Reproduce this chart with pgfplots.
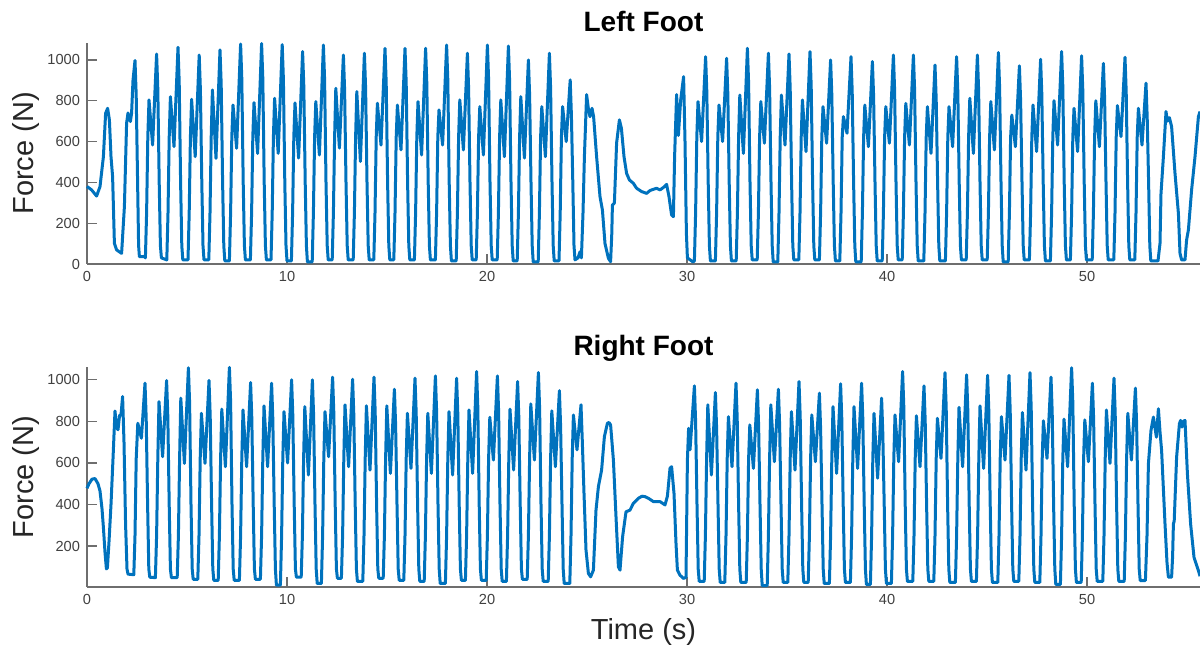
\documentclass[border=0pt]{standalone}
\usepackage{fontspec}
\setmainfont{Liberation Sans}
\usepackage{pgfplots}
\pgfplotsset{compat=1.18}
\definecolor{mblue}{RGB}{0,114,189}
\definecolor{axgray}{RGB}{110,110,110}
\definecolor{tickgray}{RGB}{64,64,64}
\pgfplotsset{
  footax/.style={
    scale only axis, width=556.5pt,
    xmin=0, xmax=55.65, enlargelimits=false,
    axis x line=bottom, axis y line=left,
    axis line style={axgray, line width=0.6pt, -},
    tick align=inside, major tick length=5pt,
    every tick/.style={axgray, line width=0.6pt},
    xtick={0,10,...,50},
    tick label style={font=\fontsize{7.3}{8}\selectfont, text=tickgray},
    /pgf/number format/assume math mode=true,
    /pgf/number format/1000 sep={},
    every axis y label/.style={at={(axis description cs:-0.0548,0.5)}, rotate=90, anchor=center,
      font=\fontsize{14.5}{16}\selectfont, text=black!85},
    title style={font=\bfseries\fontsize{14}{16}\selectfont, at={(axis description cs:0.5,1)}, anchor=base, yshift=-0.5pt},
    clip=false,
  },
  foot/.style={mblue, line width=1.5pt, line join=round},
}

\begin{document}
\begin{tikzpicture}
% left foot
\begin{axis}[footax, at={(43.5pt,193.5pt)}, anchor=south west, height=110.5pt,
  ymin=0, ymax=1083, ytick={0,200,...,1000},
  title={Left Foot}, ylabel={Force (N)}]
\addplot[foot] coordinates {
(0,380) (0.23,363) (0.48,333) (0.65,379) (0.82,526) (0.93,738) (1.03,763) (1.12,706) (1.20,526) (1.28,428) (1.37,101) (1.48,69) (1.73,52) (1.87,281) (1.98,690) (2.05,740) (2.17,698) (2.23,740) (2.30,900) (2.40,997) (2.46,827) (2.53,400) (2.58,90) (2.62,36) (2.88,36)
(2.92,30) (2.98,250) (3.04,620) (3.10,804) (3.28,583) (3.48,1029) (3.54,859) (3.61,400) (3.67,90) (3.72,30)
(3.99,20) (4.05,250) (4.11,620) (4.17,820) (4.35,575) (4.55,1062) (4.61,892) (4.68,400) (4.74,90) (4.79,20)
(5.05,20) (5.11,250) (5.17,620) (5.23,807) (5.41,526) (5.61,1024) (5.67,854) (5.74,400) (5.80,90) (5.85,20)
(6.09,20) (6.15,250) (6.21,620) (6.27,853) (6.45,518) (6.65,1049) (6.71,879) (6.78,400) (6.84,90) (6.89,15)
(7.12,15) (7.18,250) (7.24,620) (7.30,779) (7.48,567) (7.68,1078) (7.74,908) (7.81,400) (7.87,90) (7.92,20)
(8.17,20) (8.23,250) (8.29,620) (8.35,791) (8.53,542) (8.73,1080) (8.79,910) (8.86,400) (8.92,90) (8.97,20)
(9.20,20) (9.26,250) (9.32,620) (9.38,812) (9.56,542) (9.76,1075) (9.82,905) (9.89,400) (9.95,90) (10.00,15)
(10.22,15) (10.28,250) (10.34,620) (10.40,789) (10.58,519) (10.78,1041) (10.84,871) (10.91,400) (10.97,90) (11.02,10)
(11.26,10) (11.32,250) (11.38,620) (11.44,796) (11.62,534) (11.82,1073) (11.88,903) (11.95,400) (12.01,90) (12.06,20)
(12.26,20) (12.32,250) (12.38,620) (12.44,861) (12.62,568) (12.82,1024) (12.88,854) (12.95,400) (13.01,90) (13.06,20)
(13.31,20) (13.37,250) (13.43,620) (13.49,845) (13.67,502) (13.87,1033) (13.93,863) (14.00,400) (14.06,90) (14.11,20)
(14.34,20) (14.40,250) (14.46,620) (14.52,788) (14.70,583) (14.90,1057) (14.96,887) (15.03,400) (15.09,90) (15.14,20)
(15.34,20) (15.40,250) (15.46,620) (15.52,779) (15.70,559) (15.90,1057) (15.96,887) (16.03,400) (16.09,90) (16.14,20)
(16.37,20) (16.43,250) (16.49,620) (16.55,796) (16.73,534) (16.93,1057) (16.99,887) (17.06,400) (17.12,90) (17.17,20)
(17.42,20) (17.48,250) (17.54,620) (17.60,755) (17.78,583) (17.98,1073) (18.04,903) (18.11,400) (18.17,90) (18.22,15)
(18.46,15) (18.52,250) (18.58,620) (18.64,804) (18.82,559) (19.02,1033) (19.08,863) (19.15,400) (19.21,90) (19.26,20)
(19.46,20) (19.52,250) (19.58,620) (19.64,771) (19.82,534) (20.02,1073) (20.08,903) (20.15,400) (20.21,90) (20.26,20)
(20.51,20) (20.57,250) (20.63,620) (20.69,804) (20.87,526) (21.07,1068) (21.13,898) (21.20,400) (21.26,90) (21.31,15)
(21.51,15) (21.57,250) (21.63,620) (21.69,820) (21.87,519) (22.07,1000) (22.13,830) (22.20,400) (22.26,90) (22.31,10)
(22.56,10) (22.62,250) (22.68,620) (22.74,771) (22.92,526) (23.12,1033) (23.18,863) (23.25,400) (23.31,90) (23.36,15)
(23.60,15) (23.66,250) (23.72,620) (23.78,771) (23.96,600) (24.16,902) (24.22,730) (24.29,400) (24.35,90) (24.40,20)
(24.55,30) (24.65,60) (24.72,30) (24.80,250) (24.87,526) (24.98,830) (25.07,760) (25.15,722) (25.25,763) (25.33,722) (25.48,526) (25.65,330) (25.77,265) (25.90,100) (26.07,28) (26.18,11) (26.24,150) (26.27,289) (26.37,299) (26.48,593) (26.62,706) (26.72,665) (26.85,526) (26.98,444) (27.12,412) (27.32,395) (27.48,371) (27.73,355) (27.98,346) (28.15,360) (28.32,366) (28.48,371) (28.65,363) (28.82,375) (28.98,390) (29.10,330) (29.23,240) (29.32,232) (29.38,526) (29.48,830) (29.57,630) (29.68,800) (29.83,918) (29.90,600) (29.97,150) (30.02,30) (30.30,10)
(30.37,15) (30.43,250) (30.49,620) (30.55,796) (30.73,600) (30.93,1016) (30.99,846) (31.06,400) (31.12,90) (31.17,15)
(31.42,15) (31.48,250) (31.54,620) (31.60,779) (31.78,600) (31.98,1008) (32.04,838) (32.11,400) (32.17,90) (32.22,15)
(32.46,15) (32.52,250) (32.58,620) (32.64,828) (32.82,542) (33.02,1057) (33.08,887) (33.15,400) (33.21,90) (33.26,20)
(33.51,20) (33.57,250) (33.63,620) (33.69,796) (33.87,592) (34.07,1033) (34.13,863) (34.20,400) (34.26,90) (34.31,10)
(34.54,10) (34.60,250) (34.66,620) (34.72,828) (34.90,583) (35.10,1029) (35.16,859) (35.23,400) (35.29,90) (35.34,20)
(35.59,20) (35.65,250) (35.71,620) (35.77,804) (35.95,551) (36.15,1041) (36.21,871) (36.28,400) (36.34,90) (36.39,20)
(36.62,20) (36.68,250) (36.74,620) (36.80,771) (36.98,592) (37.18,1000) (37.24,830) (37.31,400) (37.37,90) (37.42,15)
(37.64,15) (37.70,250) (37.76,620) (37.82,722) (38.00,641) (38.20,1016) (38.26,846) (38.33,400) (38.39,90) (38.44,10)
(38.71,10) (38.77,250) (38.83,620) (38.89,779) (39.07,575) (39.27,992) (39.33,822) (39.40,400) (39.46,90) (39.51,15)
(39.76,15) (39.82,250) (39.88,620) (39.94,771) (40.12,592) (40.32,1024) (40.38,854) (40.45,400) (40.51,90) (40.56,20)
(40.76,20) (40.82,250) (40.88,620) (40.94,787) (41.12,583) (41.32,1024) (41.38,854) (41.45,400) (41.51,90) (41.56,15)
(41.84,15) (41.90,250) (41.96,620) (42.02,771) (42.20,542) (42.40,975) (42.46,805) (42.53,400) (42.59,90) (42.64,15)
(42.92,15) (42.98,250) (43.04,620) (43.10,771) (43.28,575) (43.48,1016) (43.54,846) (43.61,400) (43.67,90) (43.72,20)
(43.96,20) (44.02,250) (44.08,620) (44.14,812) (44.32,542) (44.52,1024) (44.58,854) (44.65,400) (44.71,90) (44.76,20)
(45.01,20) (45.07,250) (45.13,620) (45.19,796) (45.37,559) (45.57,1036) (45.63,866) (45.70,400) (45.76,90) (45.81,10)
(46.06,10) (46.12,250) (46.18,620) (46.24,730) (46.42,575) (46.62,971) (46.68,801) (46.75,400) (46.81,90) (46.86,20)
(47.12,20) (47.18,250) (47.24,620) (47.30,779) (47.48,551) (47.68,1003) (47.74,833) (47.81,400) (47.87,90) (47.92,15)
(48.17,15) (48.23,250) (48.29,620) (48.35,800) (48.53,583) (48.73,1041) (48.79,871) (48.86,400) (48.92,90) (48.97,20)
(49.17,20) (49.23,250) (49.29,620) (49.35,763) (49.53,551) (49.73,1020) (49.79,850) (49.86,400) (49.92,90) (49.97,20)
(50.26,20) (50.32,250) (50.38,620) (50.44,800) (50.62,575) (50.82,983) (50.88,813) (50.95,400) (51.01,90) (51.06,20)
(51.34,20) (51.40,250) (51.46,620) (51.52,776) (51.70,624) (51.90,1013) (51.96,843) (52.03,400) (52.09,90) (52.14,20)
(52.39,20) (52.45,250) (52.51,620) (52.57,763) (52.75,583) (52.95,886) (53.01,716) (53.08,400) (53.14,90) (53.19,15)
(53.55,15) (53.65,101) (53.70,346) (53.82,526) (53.95,747) (54.02,700) (54.07,714) (54.12,717) (54.23,673) (54.40,444) (54.57,248) (54.65,52) (54.73,20) (54.90,20) (54.98,118) (55.07,167) (55.23,363) (55.40,526) (55.57,722) (55.65,747)
};
\end{axis}
% right foot
\begin{axis}[footax, at={(43.5pt,32pt)}, anchor=south west, height=110pt,
  ymin=3, ymax=1062, ytick={200,400,...,1000},
  title={Right Foot}, ylabel={Force (N)}, xlabel={Time (s)},
  every axis x label/.style={at={(axis description cs:0.5,-0.2045)}, anchor=center,
    font=\fontsize{14.5}{16}\selectfont, text=black!85}]
\addplot[foot] coordinates {
(0,478) (0.10,500) (0.25,522) (0.40,525) (0.55,500) (0.65,465) (0.75,380) (0.82,290) (0.90,170) (0.97,90) (1.02,95) (1.10,220) (1.20,400) (1.30,620) (1.40,850) (1.48,770) (1.55,760) (1.63,830) (1.70,830) (1.78,920) (1.85,700) (1.93,300) (2.00,90) (2.05,65)
(2.34,62) (2.40,250) (2.46,620) (2.54,791) (2.72,719) (2.90,984) (2.96,814) (3.03,400) (3.09,90) (3.14,50)
(3.42,48) (3.48,250) (3.54,620) (3.60,895) (3.78,630) (3.98,997) (4.04,827) (4.11,400) (4.17,90) (4.22,48)
(4.51,48) (4.57,250) (4.63,620) (4.69,912) (4.87,598) (5.07,1058) (5.13,891) (5.20,400) (5.26,90) (5.31,40)
(5.54,40) (5.60,250) (5.66,620) (5.72,839) (5.90,598) (6.10,997) (6.16,827) (6.23,400) (6.29,90) (6.34,35)
(6.56,35) (6.62,250) (6.68,620) (6.74,859) (6.92,582) (7.12,1060) (7.18,897) (7.25,400) (7.31,90) (7.36,35)
(7.62,35) (7.68,250) (7.74,620) (7.80,855) (7.98,582) (8.18,987) (8.24,817) (8.31,400) (8.37,90) (8.42,40)
(8.67,40) (8.73,250) (8.79,620) (8.85,875) (9.03,582) (9.23,984) (9.29,814) (9.36,400) (9.42,90) (9.47,12)
(9.67,12) (9.73,250) (9.79,620) (9.85,847) (10.03,600) (10.23,1000) (10.29,830) (10.36,400) (10.42,90) (10.47,50)
(10.71,50) (10.77,250) (10.83,620) (10.89,871) (11.07,542) (11.27,1000) (11.33,830) (11.40,400) (11.46,90) (11.51,20)
(11.72,20) (11.78,250) (11.84,620) (11.90,847) (12.08,630) (12.28,1013) (12.34,843) (12.41,400) (12.47,90) (12.52,45)
(12.72,45) (12.78,250) (12.84,620) (12.90,880) (13.08,582) (13.28,1003) (13.34,833) (13.41,400) (13.47,90) (13.52,30)
(13.79,30) (13.85,250) (13.91,620) (13.97,875) (14.15,566) (14.35,1013) (14.41,843) (14.48,400) (14.54,90) (14.59,45)
(14.81,45) (14.87,250) (14.93,620) (14.99,875) (15.17,550) (15.37,955) (15.43,785) (15.50,400) (15.56,90) (15.61,35)
(15.84,35) (15.90,250) (15.96,620) (16.02,839) (16.20,574) (16.40,1008) (16.46,838) (16.53,400) (16.59,90) (16.64,30)
(16.86,30) (16.92,250) (16.98,620) (17.04,839) (17.22,550) (17.42,1019) (17.48,849) (17.55,400) (17.61,90) (17.66,20)
(17.92,20) (17.98,250) (18.04,620) (18.10,847) (18.28,542) (18.48,1008) (18.54,838) (18.61,400) (18.67,90) (18.72,35)
(18.92,35) (18.98,250) (19.04,620) (19.10,855) (19.28,550) (19.48,1040) (19.54,870) (19.61,400) (19.67,90) (19.72,35)
(19.96,35) (20.02,250) (20.08,620) (20.14,820) (20.32,614) (20.52,1019) (20.58,849) (20.65,400) (20.71,90) (20.76,30)
(20.97,30) (21.03,250) (21.09,620) (21.15,859) (21.33,566) (21.53,992) (21.59,822) (21.66,400) (21.72,90) (21.77,40)
(22.01,40) (22.07,250) (22.13,620) (22.19,884) (22.37,614) (22.57,1035) (22.63,865) (22.70,400) (22.76,90) (22.81,30)
(23.06,30) (23.12,250) (23.18,620) (23.24,851) (23.42,582) (23.62,948) (23.68,778) (23.75,400) (23.81,90) (23.86,20)
(24.14,20) (24.20,250) (24.26,620) (24.32,831) (24.50,663) (24.70,880) (24.76,720) (24.85,454) (24.95,181) (25.07,68) (25.18,52)
(25.32,84) (25.45,373) (25.57,486) (25.73,566) (25.87,727) (26.02,791) (26.10,795) (26.18,783) (26.32,614) (26.45,341) (26.57,100) (26.65,84) (26.78,245) (26.95,365) (27.15,373) (27.32,406) (27.57,430) (27.75,440) (27.90,438) (28.07,430) (28.32,414) (28.65,414) (28.90,398) (29.02,440) (29.15,574) (29.23,582) (29.35,454) (29.45,213) (29.52,84) (29.65,60) (29.82,44) (29.95,50)
(30.02,614) (30.08,767) (30.15,663) (30.22,759) (30.37,971) (30.43,801) (30.50,400) (30.56,90) (30.61,30)
(30.86,30) (30.92,250) (30.98,620) (31.04,880) (31.22,542) (31.42,939) (31.48,769) (31.55,400) (31.61,90) (31.66,25)
(31.89,25) (31.95,250) (32.01,620) (32.07,823) (32.25,582) (32.45,984) (32.51,814) (32.58,400) (32.64,90) (32.69,25)
(32.96,25) (33.02,250) (33.08,620) (33.14,783) (33.32,574) (33.52,952) (33.58,782) (33.65,400) (33.71,90) (33.76,10)
(34.01,10) (34.07,250) (34.13,620) (34.19,880) (34.37,606) (34.57,955) (34.63,785) (34.70,400) (34.76,90) (34.81,25)
(35.04,25) (35.10,250) (35.16,620) (35.22,847) (35.40,566) (35.60,992) (35.66,822) (35.73,400) (35.79,90) (35.84,25)
(36.06,25) (36.12,250) (36.18,620) (36.24,831) (36.42,606) (36.62,936) (36.68,766) (36.75,400) (36.81,90) (36.86,20)
(37.12,20) (37.18,250) (37.24,620) (37.30,871) (37.48,550) (37.68,981) (37.74,811) (37.81,400) (37.87,90) (37.92,25)
(38.17,25) (38.23,250) (38.29,620) (38.35,871) (38.53,574) (38.73,984) (38.79,814) (38.86,400) (38.92,90) (38.97,15)
(39.17,15) (39.23,250) (39.29,620) (39.35,839) (39.53,527) (39.73,912) (39.79,742) (39.86,400) (39.92,90) (39.97,20)
(40.22,20) (40.28,250) (40.34,620) (40.40,831) (40.58,606) (40.78,1040) (40.84,870) (40.91,400) (40.97,90) (41.02,30)
(41.29,30) (41.35,250) (41.41,620) (41.47,827) (41.65,582) (41.85,971) (41.91,801) (41.98,400) (42.04,90) (42.09,30)
(42.34,30) (42.40,250) (42.46,620) (42.52,815) (42.70,622) (42.90,1035) (42.96,865) (43.03,400) (43.09,90) (43.14,25)
(43.42,25) (43.48,250) (43.54,620) (43.60,868) (43.78,582) (43.98,1024) (44.04,854) (44.11,400) (44.17,90) (44.22,30)
(44.47,30) (44.53,250) (44.59,620) (44.65,875) (44.83,574) (45.03,1022) (45.09,852) (45.16,400) (45.22,90) (45.27,25)
(45.54,25) (45.60,250) (45.66,620) (45.72,823) (45.90,614) (46.10,1022) (46.16,852) (46.23,400) (46.29,90) (46.34,30)
(46.59,30) (46.65,250) (46.71,620) (46.77,843) (46.95,566) (47.15,1035) (47.21,865) (47.28,400) (47.34,90) (47.39,25)
(47.64,25) (47.70,250) (47.76,620) (47.82,803) (48.00,622) (48.20,1013) (48.26,843) (48.33,400) (48.39,90) (48.44,15)
(48.67,15) (48.73,250) (48.79,620) (48.85,811) (49.03,582) (49.23,1058) (49.29,894) (49.36,400) (49.42,90) (49.47,25)
(49.71,25) (49.77,250) (49.83,620) (49.89,807) (50.07,606) (50.27,984) (50.33,814) (50.40,400) (50.46,90) (50.51,30)
(50.79,30) (50.85,250) (50.91,620) (50.97,855) (51.15,598) (51.35,1008) (51.41,838) (51.48,400) (51.54,90) (51.59,30)
(51.86,30) (51.92,250) (51.98,620) (52.04,839) (52.22,614) (52.42,960) (52.48,790) (52.55,400) (52.61,90) (52.66,34)
(52.92,34) (53.00,250) (53.07,596) (53.20,757) (53.32,821) (53.47,724) (53.57,861) (53.65,750) (53.73,660) (53.90,307) (54.00,120) (54.07,50) (54.23,50) (54.28,150) (54.32,307) (54.36,320) (54.48,628) (54.62,789) (54.68,805) (54.75,773) (54.82,800) (54.90,805) (55.02,548) (55.18,307) (55.35,146) (55.57,82) (55.65,55)
};
\end{axis}
\pgfresetboundingbox
\path[use as bounding box] (0,0) rectangle (600pt,325.5pt);
\end{tikzpicture}
\end{document}
